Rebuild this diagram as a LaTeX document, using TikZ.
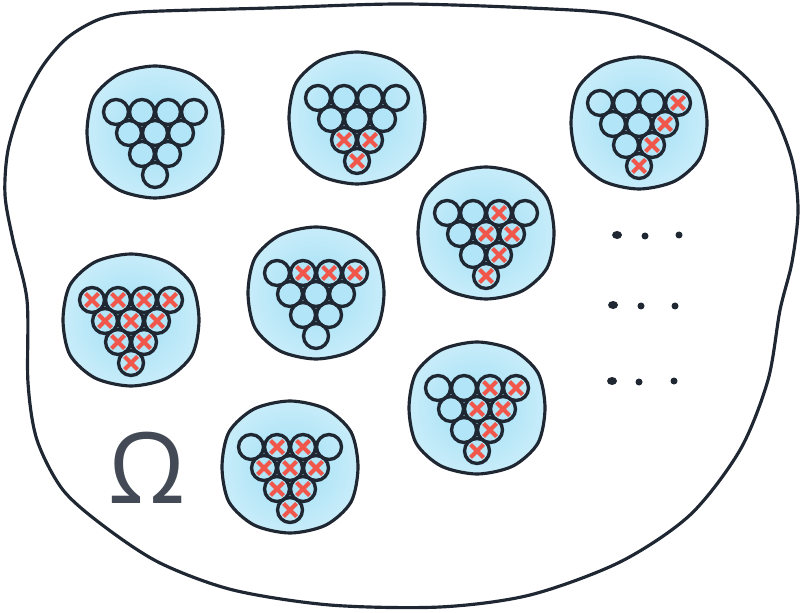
\documentclass[tikz,border=0pt]{standalone}
\usepackage{fontspec}
\newfontfamily\omegafont{Open Sans}

\definecolor{ink}{RGB}{31,39,51}
\definecolor{slate}{RGB}{67,74,86}
\definecolor{xred}{RGB}{240,86,74}
\definecolor{skyin}{RGB}{178,229,247}
\definecolor{skyout}{RGB}{234,248,253}
\pgfdeclareradialshading{skyshade}{\pgfpoint{0bp}{0bp}}{color(0bp)=(skyin); color(12bp)=(skyin); color(46bp)=(skyout); color(60bp)=(skyout)}

\tikzset{
  outline/.style={draw=ink, line width=0.9pt},
  blob/.style={draw=ink, line width=0.9pt, shading=skyshade},
  pin/.style={draw=ink, line width=0.95pt},
  cross/.style={draw=xred, line width=1.15pt},
  dot/.style={fill=ink},
}

% blob round a rack of ten pins
\newcommand{\blob}[2]{%
  \begin{scope}[shift={(#1,#2)}]
    \draw[blob] plot[smooth cycle] coordinates {(68,0) (61,35) (36,58) (0,66) (-36,58) (-61,35) (-68,0) (-61,-35) (-36,-58) (0,-66) (36,-58) (61,-35)};
  \end{scope}}
\newcommand{\pins}[2]{%
  \foreach \i/\r in {0/0,1/0,2/0,3/0,0/1,1/1,2/1,0/2,1/2,0/3}
    \draw[pin] ({#1-39+26*\i+13*\r},{#2-20+21*\r}) circle[radius=12.5];}
\newcommand{\xpin}[4]{%
  \draw[cross] ({#1-39+26*#3+13*#4},{#2-20+21*#4}) +(-6.5,-6.5) -- +(6.5,6.5) +(6.5,-6.5) -- +(-6.5,6.5);}

\begin{document}
\begin{tikzpicture}[x=0.01cm,y=-0.01cm]
\useasboundingbox (0,0) rectangle (801,613);

% sample space
\draw[outline] plot[smooth cycle] coordinates {(400,4) (530,8) (620,15) (690,40) (740,72) (772,110) (792,160) (798,210) (792,262) (780,310) (768,380) (740,450) (690,515) (620,562) (530,595) (440,607) (330,605) (233,590) (160,563) (105,527) (63,490) (37,440) (28,383) (27,300) (13,240) (5,195) (8,150) (22,105) (42,67) (67,38) (100,19) (140,12) (270,8)};

\blob{155}{132}
\pins{155}{132}

\blob{357}{118}
\foreach \i/\r in {0/2,1/2,0/3} {\xpin{357}{118}{\i}{\r}}
\pins{357}{118}

\blob{639}{123}
\foreach \i/\r in {3/0,2/1,1/2,0/3} {\xpin{639}{123}{\i}{\r}}
\pins{639}{123}

\blob{486}{233}
\foreach \i/\r in {2/0,1/1,2/1,1/2,0/3} {\xpin{486}{233}{\i}{\r}}
\pins{486}{233}

\blob{131}{320}
\foreach \i/\r in {0/0,1/0,2/0,3/0,0/1,1/1,2/1,0/2,1/2,0/3} {\xpin{131}{320}{\i}{\r}}
\pins{131}{320}

\blob{316}{293}
\foreach \i/\r in {1/0,2/0,3/0} {\xpin{316}{293}{\i}{\r}}
\pins{316}{293}

\blob{477}{408}
\foreach \i/\r in {2/0,3/0,1/1,2/1,1/2,0/3} {\xpin{477}{408}{\i}{\r}}
\pins{477}{408}

\blob{290}{467}
\foreach \i/\r in {1/0,2/0,0/1,1/1,2/1,0/2,1/2,0/3} {\xpin{290}{467}{\i}{\r}}
\pins{290}{467}

% more samples
\fill[dot] (617,235) ellipse[x radius=5, y radius=4];
\fill[dot] (645,236) circle[radius=3.5];
\fill[dot] (679,235) circle[radius=3.5];
\fill[dot] (613,305) ellipse[x radius=5, y radius=4];
\fill[dot] (641,306) circle[radius=3.5];
\fill[dot] (675,306) circle[radius=3.5];
\fill[dot] (612,381) ellipse[x radius=5, y radius=4];
\fill[dot] (639,382) circle[radius=3.5];
\fill[dot] (674,381) circle[radius=3.5];

\node[font=\omegafont\fontsize{28}{30}\selectfont, text=slate, inner sep=0pt] (omega) at (147,468) {Ω};

\end{tikzpicture}
\end{document}
